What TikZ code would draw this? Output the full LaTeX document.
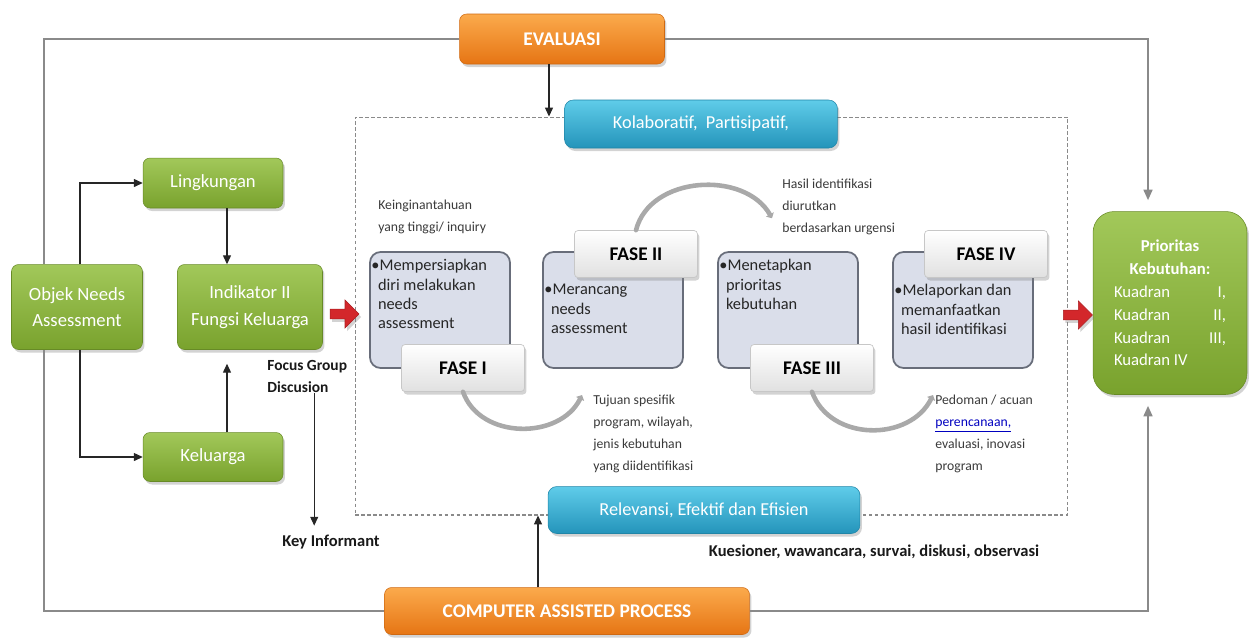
\documentclass[tikz,border=0pt]{standalone}
\usepackage{fontspec}
\setmainfont{Carlito}
\usepackage{tikz}
\usetikzlibrary{shapes,arrows.meta,positioning,calc,shadows}
\usepackage{xcolor}

\definecolor{hijauAtas}{HTML}{A2C85A}
\definecolor{hijauBawah}{HTML}{79A22D}
\definecolor{oranyeAtas}{HTML}{FBAA4C}
\definecolor{oranyeBawah}{HTML}{E67514}
\definecolor{biruAtas}{HTML}{5FCCE9}
\definecolor{biruBawah}{HTML}{2494BA}
\definecolor{faseIsi}{HTML}{DADEEA}
\definecolor{faseGaris}{HTML}{686D7A}
\definecolor{merah}{HTML}{D3272B}
\definecolor{garis}{HTML}{8A8A8A}
\definecolor{busur}{HTML}{A9A9A9}
\definecolor{teks}{HTML}{3A3A3A}

\tikzset{
  bayang/.style={drop shadow={opacity=0.35, shadow xshift=0.04cm, shadow yshift=-0.06cm}},
  kotakhijau/.style={draw=hijauBawah!85!black, line width=0.3pt, rounded corners=4pt,
    top color=hijauAtas, bottom color=hijauBawah, text=white, align=center,
    font=\fontsize{10.6}{15}\selectfont, bayang},
  kotakoranye/.style={draw=oranyeBawah!90!black, line width=0.3pt, rounded corners=4pt,
    top color=oranyeAtas, bottom color=oranyeBawah, text=white,
    font=\fontsize{11}{13}\selectfont\bfseries, bayang},
  kotakbiru/.style={draw=biruBawah!90!black, line width=0.3pt, rounded corners=5pt,
    top color=biruAtas, bottom color=biruBawah, text=white,
    font=\fontsize{10.4}{12}\selectfont, bayang},
  kotakfase/.style={draw=faseGaris, line width=1pt, rounded corners=6pt, fill=faseIsi,
    minimum width=2.8cm, minimum height=2.32cm, inner sep=0},
  teksfase/.style={inner sep=0, align=left, text=black!85, font=\fontsize{9.3}{11}\selectfont},
  labelfase/.style={draw=black!22, line width=0.4pt, rounded corners=2pt, top color=white,
    bottom color=black!12, minimum width=2.46cm, minimum height=0.94cm,
    font=\fontsize{11}{13}\selectfont\bfseries, bayang},
  teksket/.style={inner sep=0, anchor=north west, align=left, text=teks,
    font=\fontsize{7.8}{12.5}\selectfont},
  tebal/.style={inner sep=0, text=black!90, font=\fontsize{9.4}{12.5}\selectfont\bfseries},
  kotakputus/.style={draw=garis, line width=0.6pt, dash pattern=on 2pt off 1.4pt,
    inner sep=0},
  bingkai/.style={draw=garis, line width=1.2pt},
  panah/.style={draw=black!85, line width=0.6pt, -{Triangle[length=5pt,width=4.5pt]}},
  panahB/.style={-{Triangle[length=6pt,width=5pt]}, shorten >=0.22cm},
  busurfase/.style={draw=busur, line width=2.6pt, line cap=round,
    -{Triangle[length=2.5pt,width=5pt]}},
  panahmerah/.style={single arrow, fill=merah, draw=merah!80!black, line width=0.3pt,
    minimum height=0.58cm, minimum width=0.56cm, single arrow head extend=0.14cm,
    inner sep=0.07cm, bayang}
}

\begin{document}
\begin{tikzpicture}[x=0.02cm, y=-0.02cm]
    \useasboundingbox (0,0) rectangle (1251,637);

    % Area proses (garis putus-putus)
    \node[kotakputus, minimum width=14.26cm, minimum height=7.96cm] (area) at (711.5,316) {};

    % Kotak utama
    \node[kotakoranye, minimum width=4.1cm, minimum height=1cm] (evaluasi) at (562,39) {EVALUASI};
    \node[kotakoranye, minimum width=7.3cm, minimum height=0.94cm] (cap) at (567,611) {COMPUTER ASSISTED PROCESS};
    \node[kotakhijau, minimum width=2.62cm, minimum height=1.7cm] (objek) at (77,307) {Objek Needs\\Assessment};
    \node[kotakhijau, minimum width=2.8cm, minimum height=1cm] (lingk) at (213,183) {Lingkungan};
    \node[kotakhijau, minimum width=2.9cm, minimum height=1.7cm] (indik) at (250,307) {Indikator II\\Fungsi Keluarga};
    \node[kotakhijau, minimum width=2.8cm, minimum height=0.98cm] (kelu) at (213,457) {Keluarga};
    \node[kotakhijau, rounded corners=12pt, minimum width=3.08cm, minimum height=3.66cm,
      font=\fontsize{9.5}{13}\selectfont] (prior) at (1170,303)
      {\textbf{Prioritas}\\\textbf{Kebutuhan:}\\\makebox[2.24cm]{Kuadran\hfill I,}\\
       \makebox[2.24cm]{Kuadran\hfill II,}\\\makebox[2.24cm]{Kuadran\hfill III,}\\
       \makebox[2.24cm][l]{Kuadran IV}};

    % Garis bingkai luar
    \draw[bingkai] (evaluasi.west) -| ([xshift=-0.66cm]objek.north);
    \draw[bingkai] ([xshift=-0.66cm]objek.south) |- (cap.west);
    \draw[bingkai, panahB] (evaluasi.east) -| ([xshift=-0.44cm]prior.north);
    \draw[bingkai, panahB] (cap.east) -| ([xshift=-0.44cm]prior.south);

    % Kotak biru
    \node[kotakbiru, minimum width=5.46cm, minimum height=0.96cm] (kolab) at (701,124) {Kolaboratif,\ \ Partisipatif,};
    \node[kotakbiru, minimum width=6.24cm, minimum height=0.94cm] (relev) at (704,510) {Relevansi, Efektif dan Efisien};
    \draw[panah] ([xshift=-0.26cm]evaluasi.south) -- ([xshift=-0.26cm]evaluasi.south |- area.north);
    \draw[panah] ([xshift=-0.58cm]cap.north) -- ([xshift=-0.58cm]cap.north |- area.south);

    % Objek needs assessment
    \draw[panah] ([xshift=0.06cm]objek.north) |- (lingk.west);
    \draw[panah] ([xshift=0.06cm]objek.south) |- (kelu.west);
    \draw[panah] ([xshift=0.28cm]lingk.south) -- ([xshift=0.28cm]lingk.south |- indik.north);
    \draw[panah, shorten >=0.28cm] ([xshift=0.28cm]kelu.north) -- ([xshift=0.28cm]kelu.north |- indik.south);

    \node[tebal, anchor=north west, align=left, font=\fontsize{8.8}{12.5}\selectfont\bfseries] (fgd) at (267,360) {Focus Group\\Discusion};
    \node[tebal] (kinf) at (331,542) {Key Informant};
    \draw[panah, shorten >=0.18cm] ([xshift=0.14cm]fgd.south) -- ([xshift=0.14cm]fgd.south |- kinf.north);

    \node[tebal] (kues) at (874,552) {Kuesioner, wawancara, survai, diskusi, observasi};

    % Panah merah
    \node[panahmerah, right=0.14cm of indik, yshift=-0.14cm] (ra1) {};
    \node[panahmerah, left=0cm of prior, yshift=-0.24cm] (ra2) {};

    % Fase
    \node[kotakfase] (k1) at (440,310) {};
    \node[kotakfase] (k2) at (613,310) {};
    \node[kotakfase] (k3) at (788,310) {};
    \node[kotakfase] (k4) at (963,310) {};

    \node[teksfase, below right=0.16cm and 0.04cm of k1.north west] (t1)
      {\textbullet Mempersiapkan\\\hspace*{0.4em}diri melakukan\\\hspace*{0.4em}needs\\\hspace*{0.4em}assessment};
    \node[teksfase, below right=0.66cm and 0.04cm of k2.north west] (t2)
      {\textbullet Merancang\\\hspace*{0.4em}needs\\\hspace*{0.4em}assessment};
    \node[teksfase, below right=0.16cm and 0.04cm of k3.north west] (t3)
      {\textbullet Menetapkan\\\hspace*{0.4em}prioritas\\\hspace*{0.4em}kebutuhan};
    \node[teksfase, below right=0.66cm and 0.04cm of k4.north west] (t4)
      {\textbullet Melaporkan dan\\\hspace*{0.4em}memanfaatkan\\\hspace*{0.4em}hasil identifikasi};

    % Keterangan
    \node[teksket] (ket1) at (378,200) {Keinginantahuan\\yang tinggi/ inquiry};
    \node[teksket] (ket2) at (782,179) {Hasil identifikasi\\diurutkan\\berdasarkan urgensi};
    \node[teksket] (ket3) at (593,395) {Tujuan spesifik\\program, wilayah,\\jenis kebutuhan\\yang diidentifikasi};
    \node[teksket] (ket4) at (935,395) {Pedoman / acuan\\\textcolor{blue!75!black}{\underline{perencanaan,}}\\evaluasi, inovasi\\program};

    % Busur antar fase
    \node[labelfase] (f1) at (463,368) {FASE I};
    \node[labelfase] (f2) at (636,254) {FASE II};
    \node[labelfase] (f3) at (812,368) {FASE III};
    \node[labelfase] (f4) at (986,254) {FASE IV};

    \draw[busurfase] (f1.south) .. controls +(17,48) and +(-22,45) .. ([xshift=-0.22cm]ket3.north west);
    \draw[busurfase] (f2.north) .. controls +(14,-55) and +(-27,-48) .. ([shift={(-10,11)}]ket2.west);
    \draw[busurfase] (f3.south) .. controls +(18,50) and +(-23,47) .. ([xshift=-0.04cm]ket4.north west);
\end{tikzpicture}
\end{document}
